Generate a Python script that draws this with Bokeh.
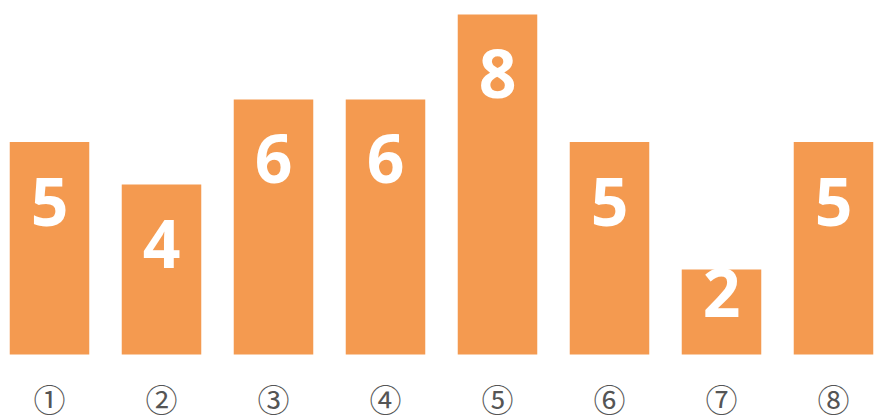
from bokeh.plotting import figure
from bokeh.models import ColumnDataSource, FixedTicker, Range1d
from bokeh.core.properties import value
from bokeh.embed import file_html
from bokeh.resources import INLINE

categories = ["①", "②", "③", "④", "⑤", "⑥", "⑦", "⑧"]
values = [5, 4, 6, 6, 8, 5, 2, 5]

xs = list(range(1, len(categories) + 1))
label_y = [max(v - 1.4, v / 2 + 0.45) for v in values]
src = ColumnDataSource(dict(x=xs, top=values, ly=label_y, txt=[str(v) for v in values]))

W, H = 876, 419
base_px = 354          # y=0 position from top
px_per_unit = (base_px - 14) / 8
p = figure(width=W, height=H, output_backend="svg", toolbar_location=None,
           x_range=Range1d(1 - 49 / 112, 1 - 49 / 112 + W / 112),
           y_range=Range1d(-(H - base_px) / px_per_unit, base_px / px_per_unit),
           min_border_left=0, min_border_right=0, min_border_top=0, min_border_bottom=0)
p.vbar(x="x", top="top", bottom=0, width=0.71, source=src, color="#F49A50", line_color=None)
p.text(x="x", y="ly", text="txt", source=src, text_color="white",
       text_font=value("Open Sans"), text_font_style="bold", text_font_size="66px",
       text_align="center", text_baseline="middle")

p.yaxis.visible = False
p.grid.visible = False
p.outline_line_color = None
p.xaxis.fixed_location = 0
p.xaxis.ticker = FixedTicker(ticks=xs)
p.xaxis.major_label_overrides = {x: c for x, c in zip(xs, categories)}
p.xaxis.axis_line_color = None
p.xaxis.major_tick_line_color = None
p.xaxis.minor_tick_line_color = None
p.xaxis.major_label_text_font = "Noto Sans CJK JP"
p.xaxis.major_label_text_font_size = "32px"
p.xaxis.major_label_text_color = "#555555"
p.xaxis.major_label_standoff = 14

open("out.html", "w").write(file_html(p, INLINE))
